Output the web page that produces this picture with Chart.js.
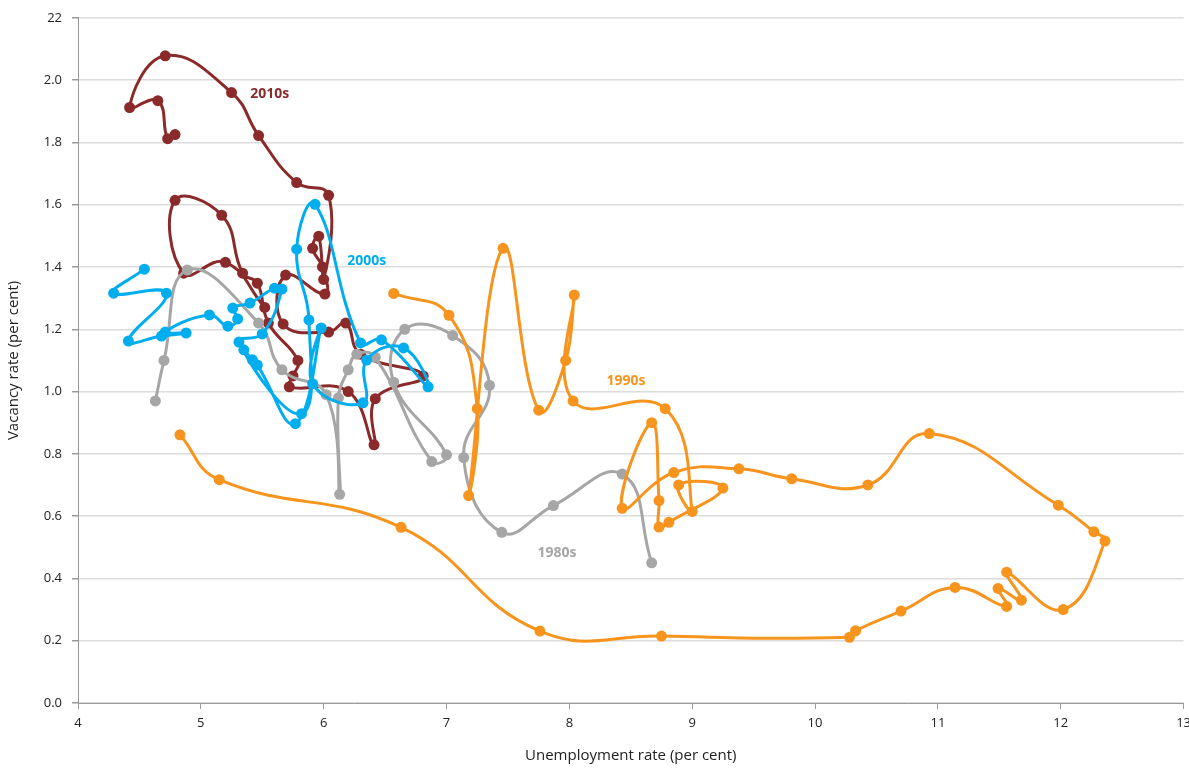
<!DOCTYPE html>
<html>
<head>
<meta charset="utf-8">
<script src="https://cdn.jsdelivr.net/npm/chart.js@4.4.1/dist/chart.umd.min.js"></script>
<style>
  html, body { margin: 0; padding: 0; background: #ffffff; overflow: hidden; }
  #wrap { width: 1189px; height: 769px; overflow: hidden; }
</style>
</head>
<body>
<div id="wrap"><canvas id="chart" width="1197" height="769"></canvas></div>
<script>
// Beveridge curve by decade: unemployment rate (x) vs vacancy rate (y), per cent, in time order.
const unemp1980s = [8.67, 8.43, 7.87, 7.45, 7.14, 7.35, 7.05, 6.66, 6.57, 7.00, 6.88, 6.42, 6.27, 6.20, 6.12, 6.13, 6.02, 5.66, 5.47, 4.89, 4.70, 4.63];
const vacancy1980s = [0.45, 0.735, 0.634, 0.548, 0.788, 1.02, 1.18, 1.20, 1.03, 0.797, 0.775, 1.11, 1.12, 1.07, 0.98, 0.67, 0.99, 1.07, 1.22, 1.39, 1.10, 0.97];

const unemp1990s = [4.83, 5.15, 6.63, 7.76, 8.75, 10.28, 10.33, 10.70, 11.14, 11.56, 11.49, 11.68, 11.56, 12.02, 12.36, 12.27, 11.98, 10.93, 10.43, 9.81, 9.38, 8.85, 8.43, 8.67, 8.73, 8.73, 8.81, 9.25, 8.89, 9.00, 8.78, 8.03, 8.04, 7.97, 7.75, 7.46, 7.18, 7.25, 7.02, 6.57];
const vacancy1990s = [0.861, 0.717, 0.564, 0.231, 0.215, 0.211, 0.232, 0.295, 0.371, 0.31, 0.368, 0.33, 0.42, 0.30, 0.52, 0.55, 0.635, 0.865, 0.70, 0.72, 0.752, 0.74, 0.625, 0.90, 0.65, 0.565, 0.58, 0.69, 0.70, 0.615, 0.945, 0.97, 1.31, 1.10, 0.94, 1.46, 0.666, 0.945, 1.245, 1.315];

const unemp2000s = [4.54, 4.29, 4.72, 4.41, 4.68, 4.88, 4.71, 5.07, 5.22, 5.30, 5.26, 5.40, 5.60, 5.66, 5.50, 5.31, 5.82, 5.88, 5.78, 5.93, 6.30, 6.47, 6.85, 6.65, 6.35, 6.32, 5.91, 5.98, 5.77, 5.46, 5.42, 5.35];
const vacancy2000s = [1.393, 1.316, 1.316, 1.162, 1.178, 1.188, 1.191, 1.246, 1.210, 1.233, 1.268, 1.284, 1.332, 1.329, 1.185, 1.159, 0.929, 1.230, 1.457, 1.601, 1.156, 1.166, 1.015, 1.140, 1.101, 0.964, 1.025, 1.204, 0.897, 1.085, 1.102, 1.134];

const unemp2010s = [5.52, 5.20, 4.86, 4.79, 5.17, 5.34, 5.46, 5.55, 5.79, 5.75, 5.72, 6.20, 6.41, 6.42, 6.81, 6.30, 6.18, 6.04, 5.67, 5.69, 6.01, 5.99, 5.91, 5.96, 6.00, 6.04, 5.78, 5.47, 5.25, 4.71, 4.42, 4.65, 4.73, 4.79];
const vacancy2010s = [1.27, 1.415, 1.38, 1.614, 1.566, 1.38, 1.348, 1.22, 1.10, 1.05, 1.015, 1.00, 0.829, 0.977, 1.05, 1.12, 1.22, 1.191, 1.217, 1.374, 1.313, 1.40, 1.46, 1.499, 1.36, 1.63, 1.671, 1.822, 1.96, 2.078, 1.912, 1.934, 1.812, 1.825];

const decadeNames = ['1980s', '1990s', '2000s', '2010s'];
const decadeColours = ['#a6a6a6', '#f7941d', '#00aeef', '#8b2a2a'];
// Where each decade's name sits, in axis units
const labelX = [7.90, 8.46, 6.35, 5.56];
const labelY = [0.483, 1.034, 1.418, 1.956];

const yTickValues = [0, 0.2, 0.4, 0.6, 0.8, 1.0, 1.2, 1.4, 1.6, 1.8, 2.0, 2.2];
const yTickText = ['0.0', '0.2', '0.4', '0.6', '0.8', '1.0', '1.2', '1.4', '1.6', '1.8', '2.0', '22'];

function pairs(xs, ys) {
  return xs.map((x, i) => ({ x: x, y: ys[i] }));
}

function series(idx, xs, ys) {
  const c = decadeColours[idx];
  return {
    label: decadeNames[idx],
    data: pairs(xs, ys),
    showLine: true,
    borderColor: c,
    backgroundColor: c,
    pointBackgroundColor: c,
    pointBorderColor: c,
    borderWidth: 3,
    pointRadius: 5.5,
    pointBorderWidth: 0,
    pointHoverRadius: 5.5,
    tension: 0.45,
    borderCapStyle: 'round',
    borderJoinStyle: 'round'
  };
}

const decadeLabels = {
  id: 'decadeLabels',
  afterDatasetsDraw(chart) {
    const { ctx, scales } = chart;
    ctx.save();
    ctx.font = 'bold 14px "Open Sans", sans-serif';
    ctx.textAlign = 'center';
    ctx.textBaseline = 'middle';
    decadeNames.forEach((name, i) => {
      ctx.fillStyle = decadeColours[i];
      ctx.fillText(name, scales.x.getPixelForValue(labelX[i]), scales.y.getPixelForValue(labelY[i]));
    });
    ctx.restore();
  }
};

Chart.defaults.font.family = '"Open Sans", sans-serif';
Chart.defaults.color = '#222';

new Chart(document.getElementById('chart'), {
  type: 'scatter',
  data: {
    // first dataset is painted last (on top)
    datasets: [
      series(2, unemp2000s, vacancy2000s),
      series(1, unemp1990s, vacancy1990s),
      series(0, unemp1980s, vacancy1980s),
      series(3, unemp2010s, vacancy2010s)
    ]
  },
  options: {
    responsive: false,
    animation: false,
    layout: { padding: { left: 3, top: 15, right: 0, bottom: 2 } },
    plugins: {
      legend: { display: false },
      tooltip: { enabled: false }
    },
    scales: {
      x: {
        type: 'linear',
        min: 4,
        max: 13,
        ticks: { stepSize: 1, padding: 6, font: { size: 13 }, color: '#222' },
        grid: { drawOnChartArea: false, drawTicks: true, tickLength: 6, tickColor: '#999', lineWidth: 1 },
        border: { display: true, color: '#999', width: 1 },
        title: { display: true, text: 'Unemployment rate (per cent)', font: { size: 15 }, color: '#222', padding: { top: 14, bottom: 2 } },
        afterFit(scale) { scale.height = 64; }
      },
      y: {
        type: 'linear',
        min: 0,
        max: 2.2,
        afterBuildTicks(scale) { scale.ticks = yTickValues.map(v => ({ value: v })); },
        ticks: {
          padding: 10,
          font: { size: 13 },
          color: '#222',
          callback(value) {
            const i = yTickValues.findIndex(v => Math.abs(v - value) < 1e-6);
            return i >= 0 ? yTickText[i] : '';
          }
        },
        grid: { color: '#dcdcdc', lineWidth: 1.5, drawTicks: true, tickLength: 6, tickColor: '#999' },
        border: { display: true, color: '#999', width: 1 },
        title: { display: true, text: 'Vacancy rate (per cent)', font: { size: 15 }, color: '#222', padding: { top: 2, bottom: 4 } },
        afterFit(scale) { scale.width = 75; }
      }
    }
  },
  plugins: [decadeLabels]
});
</script>
</body>
</html>
